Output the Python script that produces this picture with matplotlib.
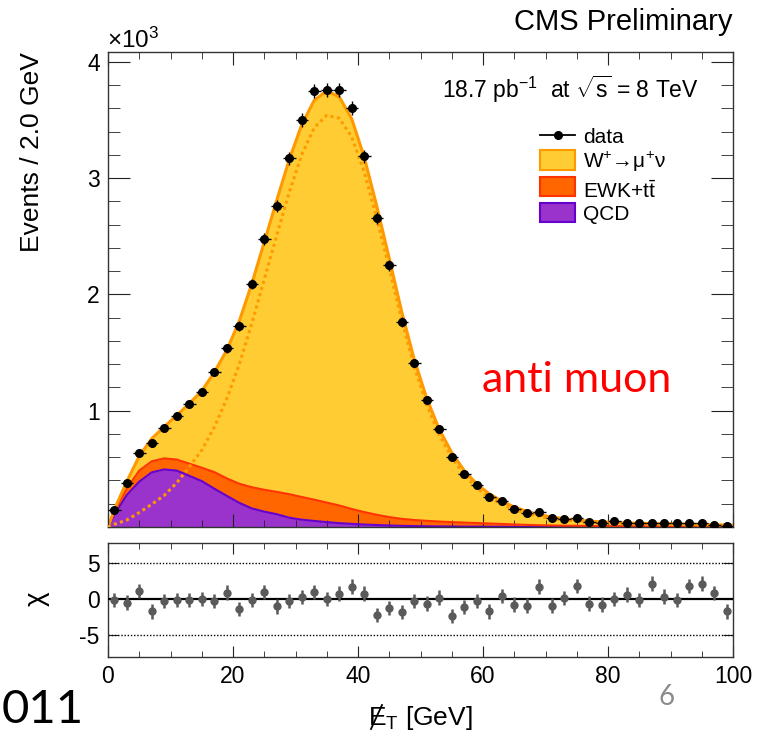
import numpy as np
import matplotlib
matplotlib.use('Agg')
import matplotlib.pyplot as plt
from matplotlib.patches import Rectangle
from matplotlib.lines import Line2D
from matplotlib.ticker import MultipleLocator, FuncFormatter, NullLocator

plt.rcParams['font.family'] = ['Liberation Sans', 'DejaVu Sans']
plt.rcParams['mathtext.fontset'] = 'custom'
plt.rcParams['mathtext.rm'] = 'Liberation Sans'
plt.rcParams['mathtext.it'] = 'Liberation Sans:italic'
plt.rcParams['mathtext.bf'] = 'Liberation Sans:bold'
plt.rcParams['axes.unicode_minus'] = False

# ---------------- data ----------------
# bin centres (2 GeV bins)
bin_centres = np.arange(1, 100, 2)
# model curve sampling points (bin centres plus the range ends)
model_x = np.concatenate([[0], bin_centres, [100]])

data_counts = [146, 381, 634, 720, 849, 954, 1055, 1163, 1335, 1537,
               1731, 2089, 2479, 2763, 3170, 3497, 3752, 3758, 3758, 3605,
               3190, 2654, 2250, 1760, 1410, 1089, 840, 600, 453, 359,
               258, 226, 157, 120, 126, 80, 71, 80, 46, 37,
               49, 37, 37, 37, 32, 32, 32, 32, 20, 12]

chi_values = [-0.14, -0.47, 1.13, -1.69, -0.28, -0.14, -0.14, 0.0, -0.23, 0.94,
              -1.36, -0.14, 1.03, -0.99, -0.28, 0.33, 1.03, 0.0, 0.8, 1.78,
              0.8, -2.16, -1.22, -1.78, -0.28, -0.61, 0.23, -2.35, -1.08, -0.28,
              -1.69, 0.42, -0.75, -0.89, 1.78, -0.89, 0.19, 1.88, -0.61, -0.75,
              0.0, 0.66, -0.09, 2.2, 0.38, -0.09, 1.88, 2.2, 0.85, -1.69]

qcd_model = [0, 105, 275, 390, 470, 495, 485, 440, 395, 330, 268,
             208, 160, 132, 110, 80, 63, 52, 42, 33, 27,
             21, 17, 13, 10, 8, 6, 5, 4, 3, 3,
             2, 2, 1, 1, 1, 1, 1, 1, 1, 1,
             1, 1, 1, 1, 1, 1, 1, 1, 1, 1, 1]

ewk_model = [0, 20, 55, 95, 95, 95, 95, 105, 115, 142, 150,
             164, 182, 188, 192, 202, 195, 183, 168, 152, 128,
             107, 88, 72, 60, 52, 47, 42, 38, 35, 31,
             28, 24, 21, 17, 14, 12, 10, 9, 8, 7,
             6, 5, 5, 4, 4, 3, 3, 3, 2, 2, 2]

wsig_model = [0, 23, 60, 125, 195, 272, 380, 517, 660, 858, 1102,
              1398, 1748, 2130, 2508, 2878, 3202, 3435, 3540, 3515, 3355,
              3052, 2655, 2225, 1780, 1380, 1052, 793, 598, 447, 336,
              255, 196, 150, 116, 91, 73, 60, 50, 42, 36,
              32, 29, 26, 24, 22, 21, 19, 17, 16, 14, 13]

legend_labels = ['data', 'W$^{+}$\u2192\u03bc$^{+}$\u03bd', r'EWK+t$\bar{\mathrm{t}}$', 'QCD']

# ---------------- figure ----------------
W, H = 762, 732
fig = plt.figure(figsize=(W / 100, H / 100), dpi=100)


def fx(px):
    return px / W


def fy(py):
    return 1 - py / H


ax = fig.add_axes([fx(108), fy(527), fx(733) - fx(108), fy(52) - fy(527)])
rax = fig.add_axes([fx(108), fy(657), fx(733) - fx(108), fy(543) - fy(657)])

q = np.array(qcd_model, float)
e = np.array(ewk_model, float)
w = np.array(wsig_model, float)
b1 = q
b2 = q + e
b3 = q + e + w

c_w_fill, c_w_line = '#FFCC33', '#FF9900'
c_e_fill, c_e_line = '#FF6600', '#FF3300'
c_q_fill, c_q_line = '#9933CC', '#6600CC'

ax.fill_between(model_x, 0, b1, color=c_q_fill, lw=0, zorder=1)
ax.fill_between(model_x, b1, b2, color=c_e_fill, lw=0, zorder=1)
ax.fill_between(model_x, b2, b3, color=c_w_fill, lw=0, zorder=1)
ax.plot(model_x, b1, color=c_q_line, lw=1.5, zorder=2)
ax.plot(model_x, b2, color=c_e_line, lw=1.5, zorder=2)
ax.plot(model_x, b3, color=c_w_line, lw=2.2, zorder=2)
ax.plot(model_x, w, color=c_w_line, lw=2.2, ls=(0, (1, 1.1)), zorder=3)

d = np.array(data_counts, float)
ax.errorbar(bin_centres, d, yerr=np.sqrt(d), xerr=1, fmt='o', color='k',
            ms=5.5, elinewidth=1.0, capsize=0, zorder=5)

ax.set_xlim(0, 100)
ax.set_ylim(0, 4085)
ax.xaxis.set_major_locator(MultipleLocator(20))
ax.xaxis.set_minor_locator(MultipleLocator(5))
ax.yaxis.set_major_locator(MultipleLocator(1000))
ax.yaxis.set_minor_locator(MultipleLocator(200))
ax.yaxis.set_major_formatter(FuncFormatter(lambda v, p: '' if v == 0 else f'{v / 1000:g}'))
ax.tick_params(which='both', direction='in', top=True, right=True,
               labelbottom=False, labelsize=16.5, color='#222222')
ax.tick_params(axis='y', which='major', length=16, pad=6)
ax.tick_params(axis='y', which='minor', length=8.5)
ax.tick_params(axis='x', which='major', length=9.5)
ax.tick_params(axis='x', which='minor', length=5)
for s in ax.spines.values():
    s.set_color('#333333')
    s.set_linewidth(1.0)

# ratio panel
rax.errorbar(bin_centres, chi_values, yerr=1, fmt='o', color='#5a5a5a',
             ms=5, elinewidth=1.8, capsize=0, zorder=5)
rax.axhline(0, color='k', lw=1.6, zorder=3)
rax.axhline(5, color='k', lw=1.0, ls=(0, (1, 1.3)), zorder=2)
rax.axhline(-5, color='k', lw=1.0, ls=(0, (1, 1.3)), zorder=2)
rax.set_xlim(0, 100)
rax.set_ylim(-8.05, 7.85)
rax.set_yticks([-5, 0, 5])
rax.yaxis.set_minor_locator(NullLocator())
rax.xaxis.set_major_locator(MultipleLocator(20))
rax.xaxis.set_minor_locator(MultipleLocator(5))
rax.tick_params(which='both', direction='in', top=True, right=True,
                labelsize=16.5, color='#222222')
rax.tick_params(axis='y', which='major', length=7, pad=6)
rax.tick_params(axis='x', which='major', length=8, pad=6)
rax.tick_params(axis='x', which='minor', length=4.5)
for s in rax.spines.values():
    s.set_color('#333333')
    s.set_linewidth(1.0)

# ---------------- texts ----------------
fig.text(fx(732), fy(30), 'CMS Preliminary', ha='right', va='baseline', fontsize=21)
fig.text(fx(107), fy(48), '\u00d710$^{3}$', ha='left', va='baseline', fontsize=17.5)
fig.text(fx(442), fy(98), r'18.7 pb$^{-1}$  at $\sqrt{\mathrm{s}}$ = 8 TeV',
         ha='left', va='baseline', fontsize=16.5)
fig.text(fx(32), fy(52), 'Events / 2.0 GeV', rotation=90, ha='center', va='top', fontsize=19)
fig.text(fx(37), fy(599), '\u03c7', rotation=90, ha='center', va='center', fontsize=20)

# x title with slashed E
fig.text(fx(368), fy(725), r'E$_{\mathrm{T}}$ [GeV]', ha='left', va='baseline', fontsize=19)
fig.add_artist(Line2D([fx(371), fx(382)], [fy(729), fy(705)], color='k', lw=1.3,
                      transform=fig.transFigure))

# legend (manual)
leg_x0, leg_x1 = 540, 575
fig.add_artist(Line2D([fx(leg_x0), fx(leg_x1)], [fy(135), fy(135)], color='k', lw=1.3,
                      transform=fig.transFigure))
fig.add_artist(Line2D([fx((leg_x0 + leg_x1) / 2)], [fy(135)], color='k', marker='o', ms=5.5,
                      ls='none', transform=fig.transFigure))
boxes = [(150, 170, c_w_fill, c_w_line), (177, 196, c_e_fill, c_e_line),
         (203, 222, c_q_fill, c_q_line)]
for top, bot, fc, ec in boxes:
    fig.add_artist(Rectangle((fx(leg_x0), fy(bot)), fx(leg_x1) - fx(leg_x0), fy(top) - fy(bot),
                             facecolor=fc, edgecolor=ec, lw=1.5, transform=fig.transFigure))
label_baselines = [143, 168, 198, 220]
for lab, yb in zip(legend_labels, label_baselines):
    fig.text(fx(583), fy(yb), lab, ha='left', va='baseline', fontsize=15)

fig.text(fx(482), fy(392), 'anti muon', color='#FF0000', ha='left', va='baseline',
         fontsize=31, family='Lato')
fig.text(fx(2), fy(731), '011', color='black', ha='left', va='bottom',
         fontsize=34, family='Lato')
fig.text(fx(658), fy(705), '6', color='#8c8c8c', ha='left', va='baseline',
         fontsize=20, family='Lato')

fig.savefig('out.png', dpi=100)
